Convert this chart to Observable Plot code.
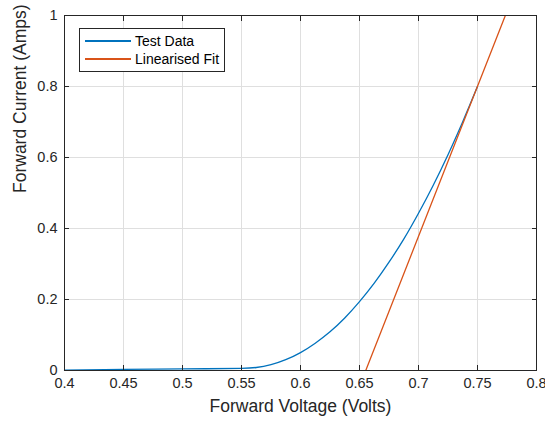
<!DOCTYPE html>
<html>
<head>
<meta charset="utf-8">
<script src="https://cdn.jsdelivr.net/npm/d3@7"></script>
<script src="https://cdn.jsdelivr.net/npm/@observablehq/plot@0.6"></script>
<style>
  body { margin: 0; background: #fff; font-family: "Liberation Sans", Arial, sans-serif; }
  #wrap { position: relative; width: 545px; height: 423px; }
  #legend { position: absolute; left: 79px; top: 28px; width: 146px; height: 44px; box-sizing: border-box;
    border: 1px solid #262626; background: #fff; font-size: 14px; color: #000; }
  #legend .row { position: absolute; left: 0; height: 18px; display: flex; align-items: center; }
  #legend .sw { display: inline-block; width: 46px; height: 1.3px; margin-left: 5px; margin-right: 4px; }
</style>
</head>
<body>
<div id="wrap"></div>
<script>
// Test data (Forward Voltage in Volts, Forward Current in Amps)
const voltage = [0.40, 0.45, 0.50, 0.55, 0.5625, 0.575, 0.5875, 0.60, 0.6125, 0.625, 0.6375, 0.65, 0.6625, 0.675, 0.6875, 0.70, 0.7125, 0.725, 0.7375, 0.75];
const current = [0.001, 0.003, 0.0045, 0.006, 0.0085, 0.0165, 0.0305, 0.0505, 0.077, 0.109, 0.148, 0.194, 0.246, 0.305, 0.370, 0.443, 0.522, 0.608, 0.701, 0.800];
// Linearised fit endpoints
const fitVoltage = [0.6553, 0.7736];
const fitCurrent = [0, 1];
// Ticks
const xTicks = [0.4, 0.45, 0.5, 0.55, 0.6, 0.65, 0.7, 0.75, 0.8];
const xTickLabels = ["0.4", "0.45", "0.5", "0.55", "0.6", "0.65", "0.7", "0.75", "0.8"];
const yTicks = [0, 0.2, 0.4, 0.6, 0.8, 1];
const yTickLabels = ["0", "0.2", "0.4", "0.6", "0.8", "1"];
const seriesNames = ["Test Data", "Linearised Fit"];
const seriesColors = ["#0072BD", "#D95319"];
const xLabel = "Forward Voltage (Volts)";
const yLabel = "Forward Current (Amps)";

const testData = voltage.map((v, i) => ({v, c: current[i]}));
const fitData = fitVoltage.map((v, i) => ({v, c: fitCurrent[i]}));
const fmt = (ticks, labels) => d => labels[ticks.indexOf(d)];
const axisColor = "#262626";
const gridColor = "#dfdfdf";

const chart = Plot.plot({
  width: 545, height: 423,
  marginLeft: 64, marginRight: 9, marginTop: 15, marginBottom: 53,
  style: { fontFamily: "'Liberation Sans', Arial, sans-serif", fontSize: "14px", color: axisColor, background: "#fff" },
  x: { domain: [0.4, 0.8] },
  y: { domain: [0, 1] },
  marks: [
    Plot.gridX(xTicks, { stroke: gridColor, strokeOpacity: 1 }),
    Plot.gridY(yTicks, { stroke: gridColor, strokeOpacity: 1 }),
    Plot.line(testData, { x: "v", y: "c", stroke: seriesColors[0], strokeWidth: 1.3, curve: "monotone-x" }),
    Plot.line(fitData, { x: "v", y: "c", stroke: seriesColors[1], strokeWidth: 1.3, clip: true }),
    // labels
    Plot.axisX(xTicks, { anchor: "bottom", tickSize: 0, tickPadding: 7, tickFormat: fmt(xTicks, xTickLabels), label: null, fontSize: 14.5, fill: axisColor }),
    Plot.axisY(yTicks, { anchor: "left", tickSize: 0, tickPadding: 7, tickFormat: fmt(yTicks, yTickLabels), label: null, fontSize: 14.5, fill: axisColor }),
    // inward ticks on all four sides
    Plot.axisX(xTicks, { anchor: "bottom", tickSize: -5, tickFormat: () => "", label: null, stroke: axisColor }),
    Plot.axisX(xTicks, { anchor: "top", tickSize: -5, tickFormat: () => "", label: null, stroke: axisColor }),
    Plot.axisY(yTicks, { anchor: "left", tickSize: -5, tickFormat: () => "", label: null, stroke: axisColor }),
    Plot.axisY(yTicks, { anchor: "right", tickSize: -5, tickFormat: () => "", label: null, stroke: axisColor }),
    Plot.frame({ stroke: axisColor }),
    // axis titles
    Plot.text([xLabel], { text: d => d, frameAnchor: "bottom", dy: 41, fontSize: 17.5, fill: axisColor }),
    Plot.text([yLabel], { text: d => d, frameAnchor: "left", rotate: -90, dx: -44, fontSize: 17.5, fill: axisColor })
  ]
});

const wrap = document.getElementById("wrap");
wrap.appendChild(chart);

const legend = document.createElement("div");
legend.id = "legend";
seriesNames.forEach((name, i) => {
  const row = document.createElement("div");
  row.className = "row";
  row.style.top = (3 + i * 18) + "px";
  const sw = document.createElement("span");
  sw.className = "sw";
  sw.style.backgroundColor = seriesColors[i];
  const t = document.createElement("span");
  t.textContent = name;
  row.appendChild(sw);
  row.appendChild(t);
  legend.appendChild(row);
});
wrap.appendChild(legend);
</script>
</body>
</html>
